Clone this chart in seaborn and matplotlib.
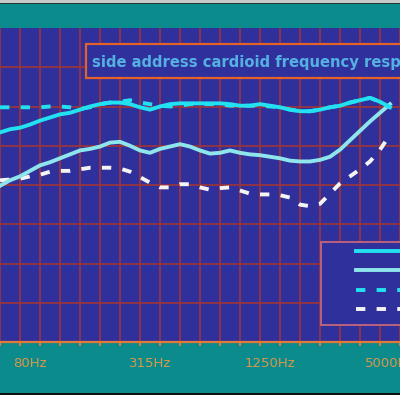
import matplotlib
matplotlib.use("Agg")
import matplotlib.pyplot as plt
from matplotlib.patches import Rectangle
from matplotlib.ticker import NullFormatter
import numpy as np
import pandas as pd
import seaborn as sns

# ---- data ----
freq_hz = [56.6, 63.5, 71.3, 80.0, 89.8, 100.8, 113.1, 127.0, 142.5, 160.0,
           179.6, 201.6, 226.3, 254.0, 285.1, 320.0, 359.2, 403.2, 452.5, 508.0,
           570.2, 640.0, 718.4, 806.3, 905.1, 1016.0, 1140.4, 1280.0, 1436.8, 1612.7,
           1810.2, 2031.9, 2280.7, 2560.0, 2873.5, 3225.4, 3620.4, 4063.7, 4561.5, 5120.0]

front_db = [-3.3, -2.9, -2.7, -2.3, -1.8, -1.4, -1.0, -0.8, -0.4, 0.0,
            0.3, 0.5, 0.5, 0.3, -0.1, -0.4, 0.0, 0.3, 0.4, 0.4,
            0.4, 0.4, 0.4, 0.3, 0.1, 0.1, 0.3, 0.1, -0.1, -0.4,
            -0.6, -0.6, -0.4, -0.1, 0.1, 0.5, 0.8, 1.1, 0.6, -0.1]

side_db = [-10.1, -9.4, -8.9, -8.2, -7.5, -7.1, -6.6, -6.1, -5.6, -5.4,
           -5.1, -4.6, -4.5, -5.0, -5.6, -5.9, -5.4, -5.1, -4.8, -5.1,
           -5.6, -6.0, -5.9, -5.6, -5.9, -6.1, -6.2, -6.4, -6.6, -6.9,
           -7.0, -7.0, -6.8, -6.4, -5.5, -4.3, -3.1, -1.9, -0.8, 0.3]

front_ref_db = [-0.1, -0.1, -0.1, -0.1, -0.1, 0.0, 0.0, -0.1, -0.3, -0.1,
                0.3, 0.5, 0.6, 0.8, 0.5, 0.3, 0.1, 0.0, 0.1, 0.3,
                0.3, 0.3, 0.3, 0.1, 0.1, 0.1, 0.1, 0.0, -0.1, -0.4,
                -0.6, -0.6, -0.4, -0.1, 0.1, 0.5, 0.8, 1.1, 0.6, -0.1]

side_ref_db = [-9.4, -9.3, -9.2, -8.9, -8.7, -8.3, -8.2, -8.2, -8.0, -7.8,
               -7.8, -7.8, -7.9, -8.3, -9.0, -9.7, -10.3, -10.3, -9.9, -9.9,
               -10.3, -10.6, -10.4, -10.3, -10.7, -11.1, -11.2, -11.2, -11.3, -11.6,
               -12.5, -12.7, -12.4, -11.1, -9.8, -8.9, -8.0, -7.0, -5.5, -3.6]

series_labels = ["front", "side", "front (ref)", "side (ref)"]
tick_freqs = [80, 320, 1280, 5120]
tick_labels = ["80Hz", "315Hz", "1250Hz", "5000Hz"]
title_text = "side address cardioid frequency response"

# ---- style ----
TEAL = "#0b8b8b"
NAVY = "#30309c"
GRID = "#98343e"
ORANGE = "#e07a38"
TAN = "#d8984c"
TITLE_C = "#55b0e2"
TITLE_EDGE = "#e3622c"
LEG_EDGE = "#b8627e"
C_A = "#22e2f2"
C_B = "#8ee6ec"
C_D = "#f4f4f4"
DASH = (0, (2.4, 2.9))

fig = plt.figure(figsize=(4, 4), dpi=100, facecolor=TEAL)
ax = fig.add_axes([0, 0.145, 1, 0.785])
ax.set_facecolor(NAVY)

df = pd.DataFrame({"freq": freq_hz, "front": front_db, "side": side_db,
                   "front_ref": front_ref_db, "side_ref": side_ref_db})

lw = 2.8
sns.lineplot(data=df, x="freq", y="side_ref", ax=ax, color=C_D, lw=lw,
             linestyle=DASH, label=series_labels[3], zorder=3)
sns.lineplot(data=df, x="freq", y="side", ax=ax, color=C_B, lw=lw,
             label=series_labels[1], zorder=3)
sns.lineplot(data=df, x="freq", y="front_ref", ax=ax, color=C_A, lw=lw,
             linestyle=DASH, label=series_labels[2], zorder=3)
sns.lineplot(data=df, x="freq", y="front", ax=ax, color=C_A, lw=lw,
             label=series_labels[0], zorder=3)

ax.set_xscale("log")
ax.set_xlim(58.9, 4980)
ax.set_ylim(-30, 10)
ax.set_xlabel("")
ax.set_ylabel("")

edges = [80 * 2 ** ((k - 0.5) / 3) for k in range(-1, 20)]
ax.set_xticks(edges, minor=True)
ax.xaxis.set_minor_formatter(NullFormatter())
ax.set_xticks(tick_freqs, labels=tick_labels)
ax.set_yticks(list(range(-25, 10, 5)))

ax.tick_params(axis="x", which="major", length=0, pad=10.5, labelcolor=TAN,
               labelsize=9.5)
ax.tick_params(axis="x", which="minor", length=3, width=1.4, color=ORANGE,
               direction="out")
ax.tick_params(axis="y", which="both", length=0, labelleft=False)

ax.grid(False)
ax.grid(axis="x", which="minor", color=GRID, lw=1.3)
ax.grid(axis="y", which="major", color=GRID, lw=1.3)
ax.set_axisbelow("line")

for s in ["top", "left", "right"]:
    ax.spines[s].set_visible(False)
ax.spines["bottom"].set_color(ORANGE)
ax.spines["bottom"].set_linewidth(1.6)

# title box
ax.add_patch(Rectangle((86 / 400, 1 - 78 / 400), 0.9, 34 / 400,
                       transform=fig.transFigure, facecolor=NAVY,
                       edgecolor=TITLE_EDGE, lw=1.6, zorder=5))
fig.text(92 / 400, 1 - 67 / 400, title_text, color=TITLE_C, fontsize=10.6,
         fontweight="bold", ha="left", va="baseline", zorder=6)

# legend box + legend (its labels lie beyond the cropped right edge)
ax.add_patch(Rectangle((321 / 400, 1 - 325 / 400), 0.5, 83 / 400,
                       transform=fig.transFigure, facecolor=NAVY,
                       edgecolor=LEG_EDGE, lw=1.4, zorder=5))
handles, labels = ax.get_legend_handles_labels()
order = [labels.index(l) for l in series_labels]
leg = ax.legend([handles[i] for i in order], ["" for _ in order],
                loc="upper left", bbox_to_anchor=(356 / 400, 1 - 245 / 400),
                bbox_transform=fig.transFigure, frameon=False, borderpad=0,
                borderaxespad=0, handlelength=5, fontsize=9, labelspacing=0.52,
                handletextpad=0.5)
leg.set_zorder(10)

# outer frame lines
fig.patches.append(Rectangle((0, 0.9925), 1, 0.0075, transform=fig.transFigure,
                             facecolor="#c8c8c8", edgecolor="none", zorder=0))
fig.patches.append(Rectangle((0, 0.99), 1, 0.0025, transform=fig.transFigure,
                             facecolor="#203838", edgecolor="none", zorder=0))
fig.patches.append(Rectangle((0, 0), 1, 0.0125, transform=fig.transFigure,
                             facecolor="#ffffff", edgecolor="none", zorder=0))
fig.patches.append(Rectangle((0, 0.0125), 1, 0.005, transform=fig.transFigure,
                             facecolor="#101010", edgecolor="none", zorder=0))

fig.savefig("out.png", dpi=100, facecolor=fig.get_facecolor())
